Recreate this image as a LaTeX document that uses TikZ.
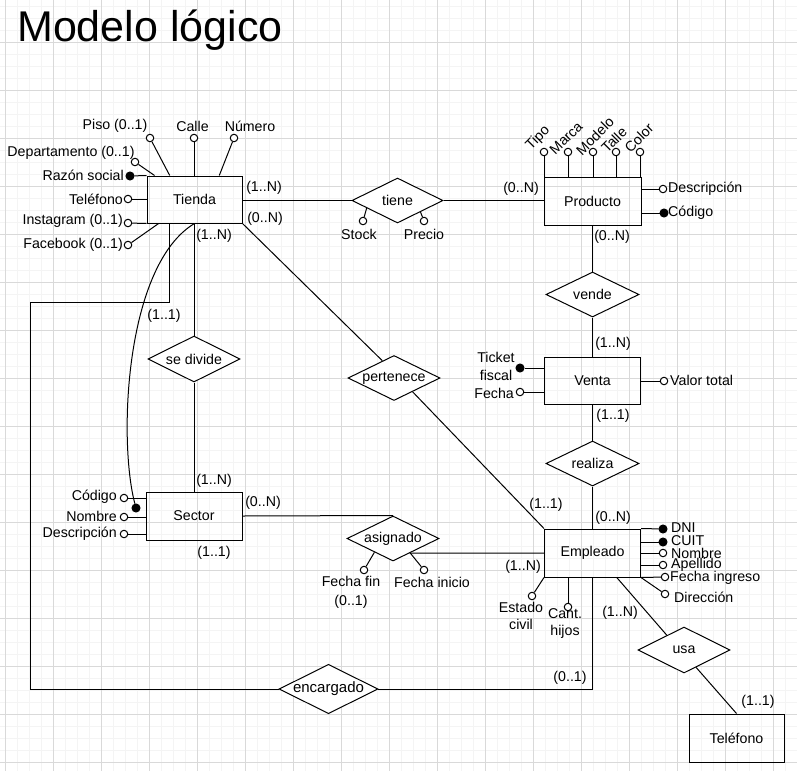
\documentclass[tikz,border=0pt]{standalone}
\usepackage{fontspec}
\setmainfont{Liberation Sans}
\usetikzlibrary{shapes.geometric,calc}
\begin{document}
\begin{tikzpicture}[x=1pt,y=-1pt,
  every node/.style={font=\fontsize{14.2}{17}\selectfont, inner sep=0pt},
  ent/.style={draw, line width=1pt, minimum width=96pt, minimum height=48pt},
  rel/.style={draw, diamond, line width=1pt, minimum width=92pt, minimum height=46pt, aspect=2, fill=white},
  op/.style={circle, draw, fill=white, line width=1pt, minimum size=7.5pt},
  pk/.style={circle, draw, fill=black, line width=1pt, minimum size=8pt},
  ln/.style={line width=1pt},
  card/.style={},
  mgrid/.style={line width=0.8pt, gray!9},
  Mgrid/.style={line width=0.8pt, gray!30},
]
\useasboundingbox (0,0) rectangle (797,771);
\fill[white] (0,0) rectangle (797,771);
% grid
\foreach \i in {0,...,66} \draw[mgrid] ({5+12*\i},0) -- ({5+12*\i},771);
\foreach \j in {0,...,63} \draw[mgrid] (0,{6+12*\j}) -- (797,{6+12*\j});
\foreach \i in {0,...,16} \draw[Mgrid] ({5+48*\i},0) -- ({5+48*\i},771);
\foreach \j in {0,...,15} \draw[Mgrid] (0,{42+48*\j}) -- (797,{42+48*\j});

% title
\node[anchor=base west, font=\fontsize{43}{50}\selectfont] (title) at (17,41) {Modelo lógico};

% entities
\node[ent, minimum width=95pt, minimum height=47pt] (tienda) at (194.5,199.5) {Tienda};
\node[ent, minimum width=97pt] (producto) at (592.5,201) {Producto};
\node[ent, minimum height=47pt] (venta) at (592.5,380.5) {Venta};
\node[ent] (sector) at (194,516) {Sector};
\node[ent] (empleado) at (592.5,553) {Empleado};
\node[ent, minimum width=95pt] (tel) at (736.5,738) {Teléfono};

% relationships
\node[rel, minimum width=91pt, minimum height=45pt] (tiene) at (397.5,200.5) {tiene};
\node[rel, minimum width=93pt, minimum height=45pt] (vende) at (592.5,294.5) {vende};
\node[rel] (sedivide) at (194,359) {se divide};
\node[rel, minimum height=45pt] (pertenece) at (394,378) {pertenece};
\node[rel, minimum width=93pt, minimum height=45pt] (realiza) at (592.5,463.5) {realiza};
\node[rel, minimum height=45pt] (asignado) at (393,538.5) {asignado};
\node[rel] (usa) at (684,650) {usa};
\node[rel, minimum width=91pt, minimum height=47pt, font=\fontsize{15}{18}\selectfont] (encargado) at (328.5,689) {encargado};

% connectors
\draw[ln] (tienda.east |- tiene.west) -- (tiene.west);
\draw[ln] (tiene.east) -- (tiene.east -| producto.west);
\draw[ln] (producto.south) -- (vende.north);
\draw[ln] (vende.south) -- (venta.north);
\draw[ln] (venta.south) -- (realiza.north);
\draw[ln] (realiza.south) -- (empleado.north);
\draw[ln] (sedivide.north |- tienda.south) -- (sedivide.north);
\draw[ln] (sedivide.south) -- (sedivide.south |- sector.north);
\draw[ln] (tienda.south east) -- ($(pertenece.west)!0.75!(pertenece.north)$);
\draw[ln] ($(pertenece.south)!0.4!(pertenece.east)$) -- (empleado.north west);
\draw[ln] (sector.east) -- (asignado.north);
\draw[ln] (empleado.west) -- ($(asignado.east)!0.64!(asignado.south)$);
\draw[ln] ($(empleado.south)!0.5!(empleado.south east)$) -- ($(usa.west)!0.63!(usa.north)$);
\draw[ln] ($(usa.south)!0.26!(usa.east)$) -- (tel.north);
\coordinate (encA) at ($(tienda.south west)!0.24!(tienda.south east)$);
\coordinate (encL) at (30,302);
\draw[ln] (encA) |- (encL) |- (encargado.west);
\draw[ln] (encargado.east) -| (empleado.south);
\node[pk] (cdot) at (136,508) {};
\draw[ln] (tienda.south) .. controls (125,265) and (118,440) .. (cdot);

% cardinalities
\node[card] (c1) at (264,188) {(1..N)};
\node[card] (c2) at (265,219) {(0..N)};
\node[card] (c3) at (214,236) {(1..N)};
\node[card] (c4) at (521,189) {(0..N)};
\node[card] (c5) at (612,237) {(0..N)};
\node[card] (c6) at (613,344) {(1..N)};
\node[card] (c7) at (613,416) {(1..1)};
\node[card] (c8) at (613,518) {(0..N)};
\node[card] (c9) at (546,505) {(1..1)};
\node[card] (c10) at (523,567) {(1..N)};
\node[card] (c11) at (620,613) {(1..N)};
\node[card] (c12) at (758,702) {(1..1)};
\node[card] (c13) at (570,678) {(0..1)};
\node[card] (c14) at (164,316) {(1..1)};
\node[card] (c15) at (214,481) {(1..N)};
\node[card] (c16) at (263,503) {(0..N)};
\node[card] (c17) at (214,553) {(1..1)};

% Tienda attributes
\node[op] (pis) at (150,138) {};
\node[op] (cal) at (194,138) {};
\node[op] (num) at (234,138) {};
\node[op] (dep) at (135,162) {};
\node[pk] (rs) at (130,176) {};
\node[op] (tf) at (128,199) {};
\node[op] (ins) at (128,223) {};
\node[op] (fb) at (128,245) {};
\draw[ln] ($(tienda.north west)!0.242!(tienda.north east)$) -- (pis);
\draw[ln] (cal |- tienda.north) -- (cal);
\draw[ln] ($(tienda.north west)!0.758!(tienda.north east)$) -- (num);
\draw[ln] ($(tienda.north west)!0.084!(tienda.north east)$) -- (dep);
\draw[ln] (tienda.north west) -- (rs);
\draw[ln] (tf -| tienda.west) -- (tf);
\draw[ln] (tienda.south west) -- (ins);
\draw[ln] ($(tienda.south west)!0.126!(tienda.south east)$) -- (fb);
\node (tpis) at (115,126) {Piso (0..1)};
\node (tcal) at (192.5,126) {Calle};
\node (tnum) at (250,126) {Número};
\node (tdep) at (71,153) {Departamento (0..1)};
\node[anchor=east] (trs) at (124,175) {Razón social};
\node[anchor=east] (ttf) at (123,199) {Teléfono};
\node[anchor=east] (tins) at (123,221) {Instagram (0..1)};
\node[anchor=east] (tfb) at (123,245) {Facebook (0..1)};

% tiene attributes
\node[op] (stk) at (363,221) {};
\node[op] (pre) at (424,221) {};
\draw[ln] ($(tiene.west)!0.33!(tiene.south)$) -- (stk);
\draw[ln] ($(tiene.south)!0.5!(tiene.east)$) -- (pre);
\node (tstk) at (359,234) {Stock};
\node (tpre) at (424,234) {Precio};

% Producto attributes
\node[op] (ptipo) at (544,152) {};
\node[op] (pmar) at (568,152) {};
\node[op] (pmod) at (593,152) {};
\node[op] (ptal) at (616,152) {};
\node[op] (pcol) at (640,152) {};
\foreach \n in {ptipo,pmar,pmod,ptal,pcol} \draw[ln] (\n |- producto.north) -- (\n);
\node[rotate=45] (ttipo) at (538,138) {Tipo};
\node[rotate=45] (tmar) at (566,138) {Marca};
\node[rotate=45] (tmod) at (595,136) {Modelo};
\node[rotate=45] (ttal) at (614,140) {Talle};
\node[rotate=45] (tcol) at (639,138) {Color};
\node[op] (pdes) at (663,189) {};
\node[pk] (pcod) at (664,213) {};
\draw[ln] (pdes -| producto.east) -- (pdes);
\draw[ln] (pcod -| producto.east) -- (pcod);
\node[anchor=west] (tpdes) at (668,189) {Descripción};
\node[anchor=west] (tpcod) at (668,213) {Código};

% Venta attributes
\node[pk] (vtf) at (520,368) {};
\node[op] (vfe) at (520,392) {};
\node[op] (vvt) at (664,381) {};
\draw[ln] (vtf -| venta.west) -- (vtf);
\draw[ln] (vfe -| venta.west) -- (vfe);
\draw[ln] (vvt -| venta.east) -- (vvt);
\node[align=center, font=\fontsize{14.2}{18}\selectfont] (tvtf) at (496,366) {Ticket\\fiscal};
\node[anchor=east] (tvfe) at (514,393) {Fecha};
\node[anchor=west] (tvvt) at (670,380) {Valor total};

% Sector attributes
\node[op] (sc) at (124,498) {};
\node[op] (sn) at (124,517) {};
\node[op] (sd) at (124,534) {};
\draw[ln] (sc -| sector.west) -- (sc);
\draw[ln] (sn -| sector.west) -- (sn);
\draw[ln] (sd -| sector.west) -- (sd);
\node[anchor=east] (tsc) at (117,497) {Código};
\node[anchor=east] (tsn) at (117,516) {Nombre};
\node[anchor=east] (tsd) at (117,534) {Descripción};

% asignado attributes
\node[op] (aff) at (364,570) {};
\node[op] (afi) at (424,570) {};
\draw[ln] ($(asignado.west)!0.6!(asignado.south)$) -- (aff);
\draw[ln] ($(asignado.south)!0.37!(asignado.east)$) -- (afi);
\node[align=center, font=\fontsize{14.2}{19}\selectfont] (taff) at (351,592.5) {Fecha fin\\(0..1)};
\node (tafi) at (432,582) {Fecha inicio};

% Empleado attributes
\node[pk] (edni) at (663,529) {};
\node[pk] (ecuit) at (663,542) {};
\node[op] (enom) at (663,553) {};
\node[op] (eape) at (663,565) {};
\node[op] (efi) at (665,577) {};
\node[op] (edir) at (665,594) {};
\node[op] (eest) at (532,596) {};
\node[op] (ecan) at (568,607) {};
\draw[ln] (empleado.north east) -- (edni);
\draw[ln] (ecuit -| empleado.east) -- (ecuit);
\draw[ln] (enom -| empleado.east) -- (enom);
\draw[ln] (eape -| empleado.east) -- (eape);
\draw[ln] (empleado.south east) -- (efi);
\draw[ln] (empleado.south east) -- (edir);
\draw[ln] (empleado.south west) -- (eest);
\draw[ln] (ecan |- empleado.south) -- (ecan);
\node[anchor=west] (tedni) at (671,528) {DNI};
\node[anchor=west] (tecuit) at (671,541) {CUIT};
\node[anchor=west] (tenom) at (671,553) {Nombre};
\node[anchor=west] (teape) at (671,565) {Apellido};
\node[anchor=west] (tefi) at (670,578) {Fecha ingreso};
\node[anchor=west] (tedir) at (674,597) {Dirección};
\node[align=center] (teest) at (521,615.5) {Estado\\civil};
\node[align=center] (tecan) at (565,624) {Cant.\\hijos};
\end{tikzpicture}
\end{document}
